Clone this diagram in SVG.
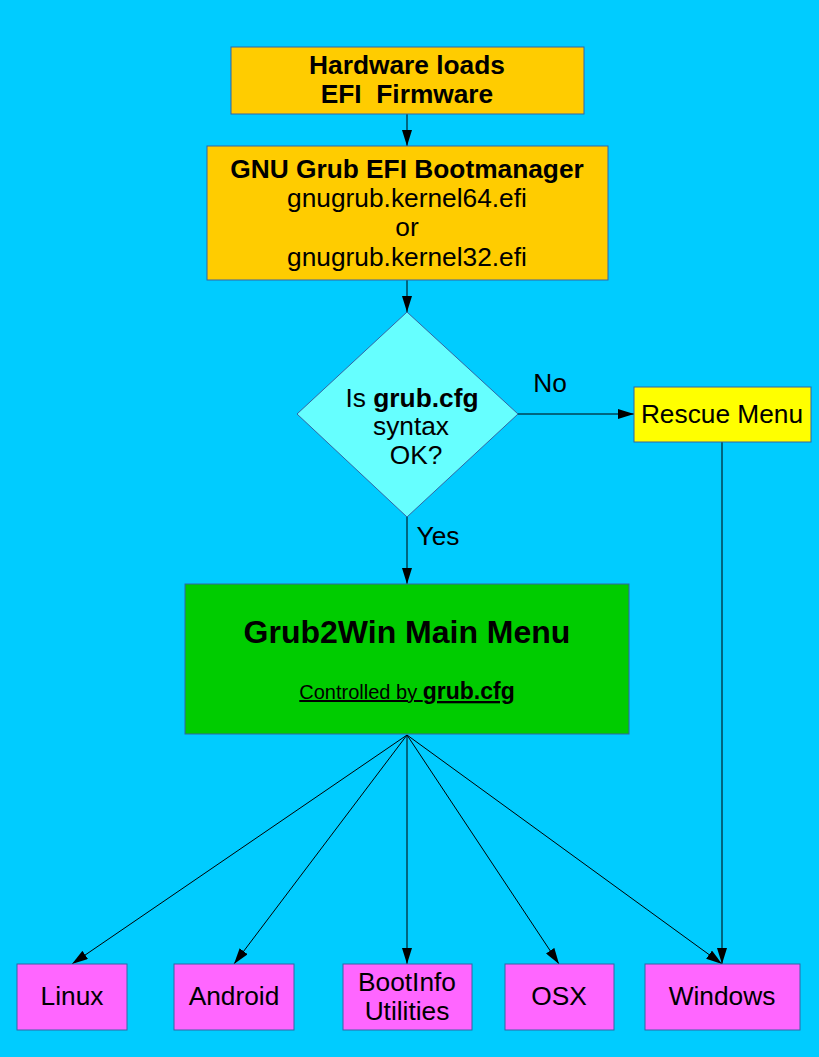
<svg xmlns="http://www.w3.org/2000/svg" width="819" height="1057" viewBox="0 0 819 1057">
<style>
text{font-family:"Liberation Sans",Arial,sans-serif;fill:#000;text-anchor:middle}
.t{font-size:26.3px}
.b{font-weight:bold}
.node{stroke:#3465a4;stroke-width:1}
.c{stroke:#000;stroke-width:1;fill:none;marker-end:url(#ah)}
</style>
<defs>
<marker id="ah" viewBox="0 0 16 10" refX="16" refY="5" markerWidth="16" markerHeight="10" markerUnits="userSpaceOnUse" orient="auto">
<path d="M0,0 L16,5 L0,10 Z" fill="#000"/>
</marker>
</defs>
<rect width="819" height="1057" fill="#00ccff"/>
<g id="connectors">
<line class="c" x1="407" y1="114" x2="407" y2="146"/>
<line class="c" x1="407" y1="280" x2="407" y2="312"/>
<line class="c" x1="407" y1="517" x2="407" y2="584"/>
<line class="c" x1="518" y1="414" x2="634" y2="414"/>
<line class="c" x1="722" y1="442" x2="722" y2="964"/>
<line class="c" x1="407" y1="735" x2="72" y2="964"/>
<line class="c" x1="407" y1="735" x2="234" y2="964"/>
<line class="c" x1="407" y1="735" x2="407" y2="964"/>
<line class="c" x1="407" y1="735" x2="559" y2="964"/>
<line class="c" x1="407" y1="735" x2="722" y2="964"/>
<text class="t" x="550" y="392">No</text>
<text class="t" x="438" y="545">Yes</text>
</g>
<g id="hardware">
<rect class="node" x="231" y="47" width="353" height="67" fill="#ffcc00"/>
<text class="t b" x="407" y="74">Hardware loads</text>
<text class="t b" x="407" y="103" xml:space="preserve">EFI  Firmware</text>
</g>
<g id="grub">
<rect class="node" x="207" y="146" width="401" height="134" fill="#ffcc00"/>
<text class="t b" x="407" y="178">GNU Grub EFI Bootmanager</text>
<text class="t" x="407" y="207">gnugrub.kernel64.efi</text>
<text class="t" x="407" y="236">or</text>
<text class="t" x="407" y="266">gnugrub.kernel32.efi</text>
</g>
<g id="decision">
<polygon class="node" points="407,312 518,414 407,517 297,414" fill="#66ffff"/>
<text class="t" x="412" y="407">Is <tspan class="b">grub.cfg</tspan></text>
<text class="t" x="411" y="435">syntax</text>
<text class="t" x="416" y="464">OK?</text>
</g>
<g id="rescue">
<rect class="node" x="634" y="387" width="177" height="55" fill="#ffff00"/>
<text class="t" x="722" y="423">Rescue Menu</text>
</g>
<g id="main">
<rect class="node" x="185" y="584" width="444" height="150" fill="#00cc00"/>
<text class="b" x="407" y="643" font-size="32">Grub2Win Main Menu</text>
<text x="407" y="699" text-decoration="underline"><tspan font-size="20">Controlled by </tspan><tspan font-size="23" class="b">grub.cfg</tspan></text>
</g>
<g id="linux">
<rect class="node" x="17" y="964" width="110" height="66" fill="#ff66ff"/>
<text class="t" x="72" y="1005">Linux</text>
</g>
<g id="android">
<rect class="node" x="174" y="964" width="120" height="66" fill="#ff66ff"/>
<text class="t" x="234" y="1005">Android</text>
</g>
<g id="bootinfo">
<rect class="node" x="343" y="964" width="129" height="66" fill="#ff66ff"/>
<text class="t" x="407" y="991">BootInfo</text>
<text class="t" x="407" y="1020">Utilities</text>
</g>
<g id="osx">
<rect class="node" x="505" y="964" width="109" height="66" fill="#ff66ff"/>
<text class="t" x="559" y="1005">OSX</text>
</g>
<g id="windows">
<rect class="node" x="645" y="964" width="155" height="66" fill="#ff66ff"/>
<text class="t" x="722" y="1005">Windows</text>
</g>
</svg>
